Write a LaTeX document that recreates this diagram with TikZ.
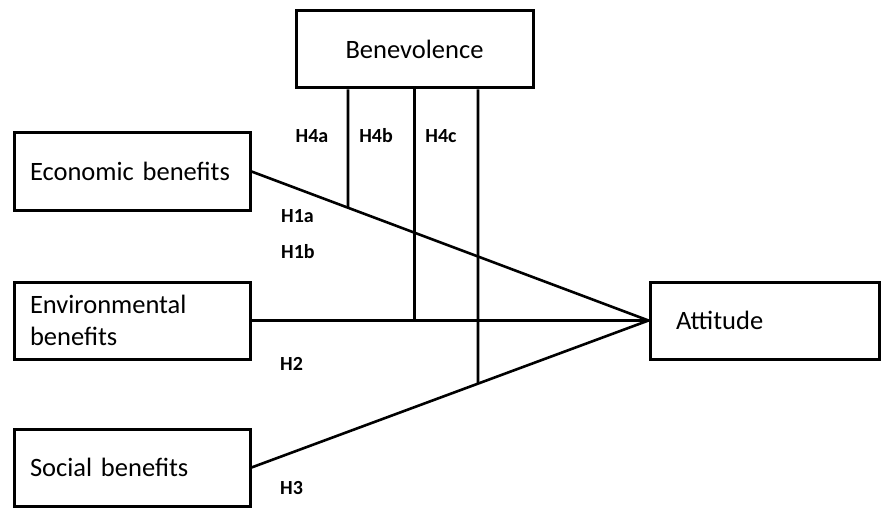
\documentclass[tikz,border=0pt]{standalone}
\usepackage{fontspec}
\setmainfont{Carlito}
\usepackage{tikz}

\begin{document}
\begin{tikzpicture}[x=1pt,y=-1pt]
    \tikzstyle{every node}+=[inner sep=0pt]
    \tikzstyle{factor}=[draw=black, line width=3pt, minimum height=77pt, inner xsep=16pt, text width=204pt, align=left, font=\fontsize{26.5}{32}\selectfont]
    \tikzstyle{link}=[draw=black, line width=2.6pt]
    \tikzstyle{hyp}=[font=\bfseries\fontsize{20}{22}\selectfont]
    \useasboundingbox (0,0) rectangle (881,508);
    \node [factor, align=center, text width=205pt] (ben) at (414.5,49.5) {Benevolence};
    \node [factor] (eco) at (132,171.5) {Economic benefits};
    \node [factor] (env) at (132,320.5) {Environmental\\benefits};
    \node [factor] (soc) at (132,467.5) {Social benefits};
    \node [factor, inner xsep=26pt, text width=177pt] (att) at (764.5,320.5) {Attitude};
    \draw [link] (eco.east) -- (att.west);
    \draw [link] (env.east) -- (att.west);
    \draw [link] (soc.east) -- (att.west);
    \coordinate (b1) at ([xshift=-66.5pt]ben.south);
    \coordinate (b2) at (ben.south);
    \coordinate (b3) at ([xshift=63.5pt]ben.south);
    \coordinate (d1) at (b1 |- soc.south);
    \coordinate (d2) at (b2 |- soc.south);
    \coordinate (d3) at (b3 |- soc.south);
    \draw [link] (b1) -- (intersection of b1--d1 and eco.east--att.west);
    \draw [link] (b2) -- (intersection of b2--d2 and env.east--att.west);
    \draw [link] (b3) -- (intersection of b3--d3 and soc.east--att.west);
    \node [hyp] (h4a) at (312,136) {H4a};
    \node [hyp] (h4b) at (376,136) {H4b};
    \node [hyp] (h4c) at (441,136) {H4c};
    \node [hyp, anchor=west] (h1a) at (281,216) {H1a};
    \node [hyp, anchor=west] (h1b) at (281,252) {H1b};
    \node [hyp, anchor=west] (h2) at (280,364) {H2};
    \node [hyp, anchor=west] (h3) at (280,488) {H3};
\end{tikzpicture}
\end{document}
